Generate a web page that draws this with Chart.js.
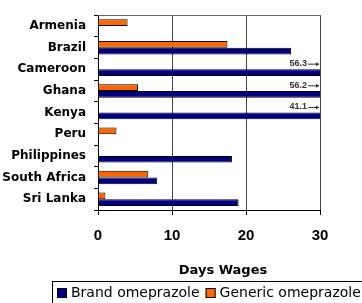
<!DOCTYPE html>
<html>
<head>
<meta charset="utf-8">
<script src="https://cdn.jsdelivr.net/npm/chart.js@4"></script>
<style>
  html, body { margin: 0; padding: 0; background: #fff; }
  #wrap { width: 362px; height: 303px; }
</style>
</head>
<body>
<div id="wrap"><canvas id="wagesChart"></canvas></div>
<script>
// Chart data
const countries = ['Armenia', 'Brazil', 'Cameroon', 'Ghana', 'Kenya', 'Peru', 'Philippines', 'South Africa', 'Sri Lanka'];
const brandWages = [null, 26.1, 56.3, 56.2, 41.1, null, 18.1, 8.0, 19.0];
const genericWages = [4.0, 17.5, null, 5.4, null, 2.5, null, 6.8, 1.0];
const xTicks = [0, 10, 20, 30];
const xTitle = 'Days Wages';

const BRAND_COLOR = '#000080';
const GENERIC_COLOR = '#FF6600';

// Extra drawing: top border, labels for bars running off the scale, axis title, legend
const extrasPlugin = {
    id: 'extras',
    afterDraw(chart) {
        const ctx = chart.ctx;
        const area = chart.chartArea;
        const xScale = chart.scales.x;
        ctx.save();

        // top border of plot area
        ctx.strokeStyle = '#666';
        ctx.lineWidth = 1;
        ctx.beginPath();
        ctx.moveTo(area.left, Math.round(area.top) + 0.5);
        ctx.lineTo(area.right, Math.round(area.top) + 0.5);
        ctx.stroke();

        // values for bars beyond the axis maximum
        const meta = chart.getDatasetMeta(1);
        ctx.font = 'bold 9px "Liberation Sans"';
        ctx.fillStyle = '#333';
        ctx.strokeStyle = '#333';
        ctx.textAlign = 'right';
        ctx.textBaseline = 'middle';
        meta.data.forEach((bar, i) => {
            const v = brandWages[i];
            if (v == null || v <= xScale.max) return;
            const y = bar.y - 9;
            const end = area.right - 1;
            ctx.fillText(v.toFixed(1), end - 12, y);
            ctx.beginPath();
            ctx.moveTo(end - 11, y + 0.5);
            ctx.lineTo(end, y + 0.5);
            ctx.stroke();
            ctx.beginPath();
            ctx.moveTo(end, y + 0.5);
            ctx.lineTo(end - 3, y - 1.5);
            ctx.lineTo(end - 3, y + 2.5);
            ctx.closePath();
            ctx.fill();
        });

        // x axis title
        ctx.fillStyle = '#000';
        ctx.font = 'bold 13px "DejaVu Sans"';
        ctx.textAlign = 'center';
        ctx.fillText(xTitle, 223, 271);

        // legend box
        ctx.strokeStyle = '#000';
        ctx.strokeRect(52.5, 281.5, 320, 30);
        ctx.font = '14px "DejaVu Sans"';
        ctx.textAlign = 'left';
        let x = 57;
        [chart.data.datasets[1], chart.data.datasets[0]].forEach(ds => {
            ctx.fillStyle = ds.backgroundColor;
            ctx.fillRect(x, 288, 10, 10);
            ctx.strokeStyle = '#000';
            ctx.strokeRect(x + 0.5, 288.5, 9, 9);
            ctx.fillStyle = '#000';
            ctx.fillText(ds.label, x + 14, 293.5);
            x += 14 + ctx.measureText(ds.label).width + 6;
        });
        ctx.restore();
    }
};

new Chart(document.getElementById('wagesChart'), {
    type: 'bar',
    data: {
        labels: countries,
        datasets: [{
            label: 'Generic omeprazole',
            data: genericWages,
            backgroundColor: GENERIC_COLOR,
            borderColor: '#000',
            borderWidth: 1,
            borderSkipped: 'start',
            categoryPercentage: 0.62,
            barPercentage: 1.0
        }, {
            label: 'Brand omeprazole',
            data: brandWages,
            backgroundColor: BRAND_COLOR,
            borderColor: '#000',
            borderWidth: 1,
            borderSkipped: 'start',
            categoryPercentage: 0.62,
            barPercentage: 1.0
        }]
    },
    options: {
        indexAxis: 'y',
        responsive: true,
        maintainAspectRatio: false,
        animation: false,
        layout: { padding: { top: 9, right: 42, left: 0, bottom: 0 } },
        scales: {
            x: {
                min: xTicks[0],
                max: xTicks[xTicks.length - 1],
                afterBuildTicks: scale => { scale.ticks = xTicks.map(v => ({ value: v })); },
                afterFit: scale => { scale.height = 93; },
                grid: { color: '#444', lineWidth: 1, tickLength: 5, tickColor: '#000' },
                border: { color: '#000' },
                ticks: {
                    color: '#000',
                    padding: 12,
                    font: { family: 'Liberation Sans', weight: 'bold', size: 15 }
                }
            },
            y: {
                afterFit: scale => { scale.width = 98; },
                grid: { drawOnChartArea: false, tickLength: 4, tickColor: '#000' },
                border: { color: '#000' },
                ticks: {
                    color: '#000',
                    padding: 8,
                    font: { family: 'DejaVu Sans', weight: 'bold', size: 12 }
                }
            }
        },
        plugins: {
            legend: { display: false },
            tooltip: { enabled: false }
        }
    },
    plugins: [extrasPlugin]
});
</script>
</body>
</html>
